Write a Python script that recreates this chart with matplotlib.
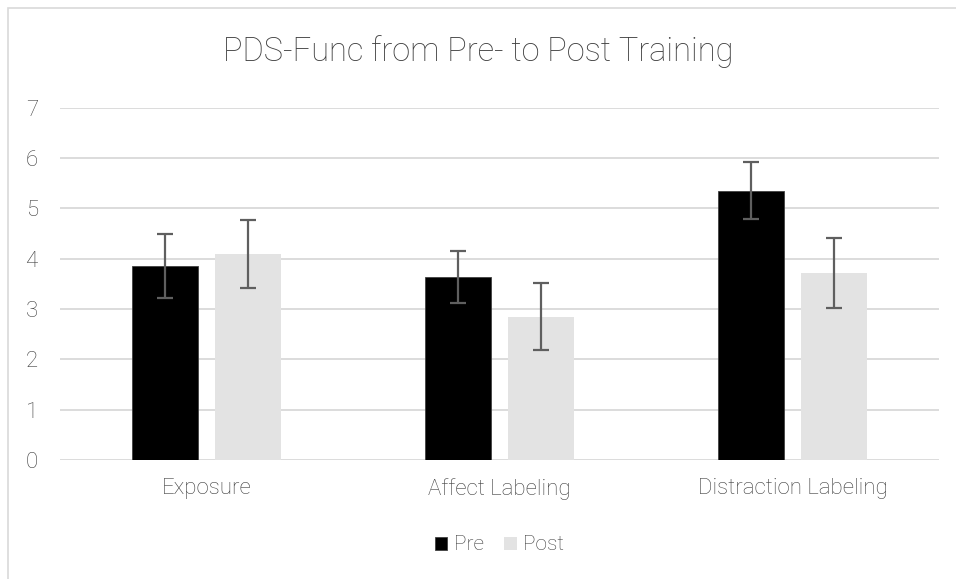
import matplotlib
matplotlib.use("Agg")
import matplotlib.pyplot as plt
import numpy as np
from matplotlib.patches import Rectangle

categories = ["Exposure", "Affect Labeling", "Distraction Labeling"]
pre_values = [3.86, 3.64, 5.35]
post_values = [4.09, 2.85, 3.72]
pre_err = [0.64, 0.52, 0.57]
post_err = [0.67, 0.66, 0.70]
series_names = ["Pre", "Post"]
yticks = [0, 1, 2, 3, 4, 5, 6, 7]

plt.rcParams['font.family'] = ['Roboto', 'DejaVu Sans']
txt = '#3f3f3f'

W, H = 956, 579
fig = plt.figure(figsize=(W/100, H/100), dpi=100)
ax = fig.add_axes([60/W, 1-460/H, 879/W, (460-107.7)/H])

x = np.arange(len(categories))
bw = 0.225
gap = 0.061
off = (bw + gap) / 2
ekw = dict(ecolor='#5f5f5f', elinewidth=1.6, capsize=6, capthick=1.6)
ax.bar(x - off, pre_values, bw, color='black', edgecolor='#404040', linewidth=0.6,
       yerr=pre_err, error_kw=ekw, label=series_names[0], zorder=3)
ax.bar(x + off, post_values, bw, color='#e3e3e3', yerr=post_err, error_kw=ekw,
       label=series_names[1], zorder=3)

ax.set_xlim(-0.5, len(categories) - 0.5)
ax.set_ylim(0, 7)
ax.set_yticks(yticks)
ax.set_yticklabels([str(v) for v in yticks], fontsize=16, color=txt, fontweight='light')
ax.set_xticks(x)
ax.set_xticklabels(categories, fontsize=16, color=txt, fontweight='light')
ax.tick_params(axis='both', length=0)
ax.tick_params(axis='y', pad=16)
ax.tick_params(axis='x', pad=13)
ax.grid(axis='y', color='#d9d9d9', linewidth=1.3, zorder=0)
for s in ax.spines.values():
    s.set_visible(False)

fig.text(0.5, 1-52/H, "PDS-Func from Pre- to Post Training", ha='center', va='center',
         fontsize=23.5, color=txt, fontweight='light')

leg = ax.legend(loc='center', bbox_to_anchor=(0.5, (460-545)/(460-107.7)), ncol=2,
                frameon=False, fontsize=15, handlelength=0.6, handleheight=0.6,
                handletextpad=0.3, columnspacing=1.0)
for t in leg.get_texts():
    t.set_color(txt)
    t.set_fontweight('light')

fig.patches.append(Rectangle((8/W, -0.1), 1.2, 1 - 8/H + 0.1, transform=fig.transFigure,
                             fill=False, edgecolor='#d9d9d9', linewidth=1.2))

fig.savefig("out.png", dpi=100)
